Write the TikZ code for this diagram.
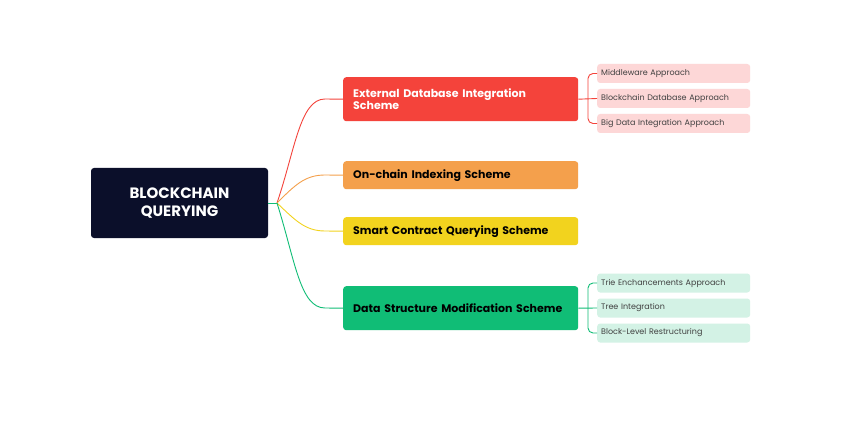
\documentclass[tikz,border=0pt]{standalone}
\usepackage{fontspec}
\setmainfont{Poppins}
\begin{document}
\begin{tikzpicture}[x=1pt,y=-1pt,
 l1/.style={rounded corners=3pt,minimum width=235pt,anchor=north west,align=left,text width=215pt,inner xsep=10pt,font=\fontsize{11}{12}\selectfont},
 l2/.style={rounded corners=3pt,minimum width=153pt,minimum height=19pt,anchor=west,text width=145pt,inner xsep=4pt,align=left,font=\fontsize{8}{9}\selectfont},
 ln/.style={line width=0.9pt,rounded corners=5pt}]
\definecolor{navy}{HTML}{0B0F2A}
\definecolor{cred}{HTML}{F4433B}
\definecolor{cora}{HTML}{F4A04C}
\definecolor{cyel}{HTML}{F2D31E}
\definecolor{cgrn}{HTML}{10BD76}
\definecolor{pink}{HTML}{FDD7D7}
\definecolor{mint}{HTML}{D3F2E5}
\useasboundingbox (0,0) rectangle (866,430);
\fill[white] (0,0) rectangle (866,430);
\node[fill=navy,text=white,rounded corners=3pt,minimum width=177pt,minimum height=70pt,align=center,font=\fontsize{15}{18}\selectfont\bfseries] (root) at (179.5,203) {BLOCKCHAIN\\QUERYING};
\coordinate (o) at (277,203);
\node[l1,fill=cred,text=white,minimum height=44pt] (a) at (343,77) {\bfseries External Database Integration Scheme};
\node[l1,fill=cora,minimum height=28pt] (b) at (343,161) {\bfseries On-chain Indexing Scheme};
\node[l1,fill=cyel,minimum height=28pt] (c) at (343,217) {\bfseries Smart Contract Querying Scheme};
\node[l1,fill=cgrn,minimum height=44pt] (d) at (343,286) {\bfseries Data Structure Modification Scheme};
\draw[ln,draw=cgrn] (root.east) -- (o);
\draw[line width=0.9pt,draw=cred] (o) .. controls (295,150) and (300,99) .. (325,99) -- (a.west);
\draw[line width=0.9pt,draw=cora] (o) .. controls (295,185) and (305,175) .. (325,175) -- (b.west);
\draw[line width=0.9pt,draw=cyel] (o) .. controls (295,220) and (305,231) .. (325,231) -- (c.west);
\draw[line width=0.9pt,draw=cgrn] (o) .. controls (295,260) and (300,308) .. (325,308) -- (d.west);
\foreach \n/\y/\t in {a1/73.5/Middleware Approach,a2/98.5/Blockchain Database Approach,a3/123.5/Big Data Integration Approach}
 \node[l2,fill=pink,text=black!75] (\n) at (597,\y) {\t};
\foreach \n/\y/\t in {d1/283/Trie Enchancements Approach,d2/308/Tree Integration,d3/333/Block-Level Restructuring}
 \node[l2,fill=mint,text=black!75] (\n) at (597,\y) {\t};
\draw[ln,draw=cred] (a1.west) -| (588,98.5) |- (a3.west);
\draw[line width=0.9pt,draw=cred] (a.east) -- (a2.west);
\draw[ln,draw=cgrn] (d1.west) -| (588,308) |- (d3.west);
\draw[line width=0.9pt,draw=cgrn] (d.east) -- (d2.west);
\end{tikzpicture}
\end{document}
